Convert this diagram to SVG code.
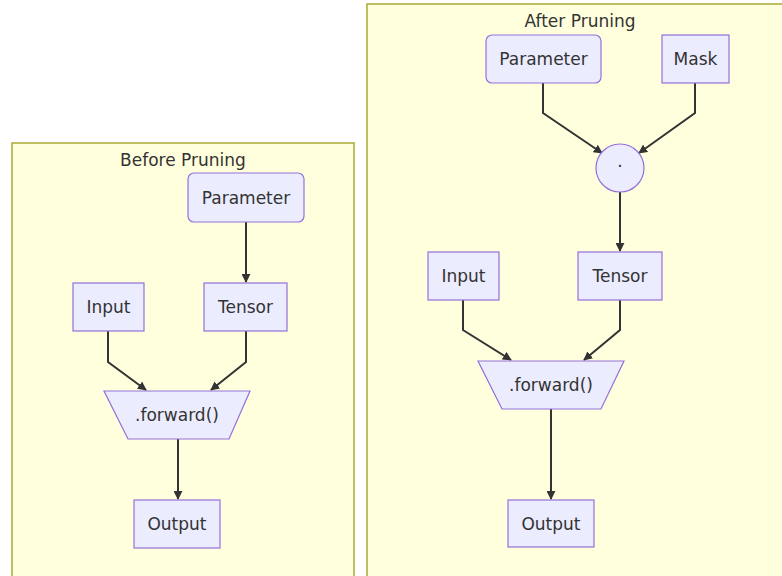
<svg xmlns="http://www.w3.org/2000/svg" width="782" height="576" viewBox="0 0 782 576">
<defs>
<marker id="arr" viewBox="0 0 10 10" refX="9" refY="5" markerWidth="9" markerHeight="9" orient="auto" markerUnits="userSpaceOnUse">
<path d="M0,0 L10,5 L0,10 z" fill="#333"/>
</marker>
<style>
.cluster{fill:#ffffde;stroke:#aaaa33;stroke-width:1.5}
.node{fill:#ececff;stroke:#9370db;stroke-width:1.2}
.lbl{font-family:"DejaVu Sans",Verdana,sans-serif;font-size:17px;fill:#333;text-anchor:middle;dominant-baseline:central}
.edge{fill:none;stroke:#333;stroke-width:2;marker-end:url(#arr)}
</style>
</defs>
<rect width="782" height="576" fill="#ffffff"/>
<g id="before-cluster">
<rect class="cluster" x="12" y="143" width="342" height="440"/>
<text class="lbl" x="183" y="160">Before Pruning</text>
</g>
<g id="after-cluster">
<rect class="cluster" x="367" y="4" width="426" height="580"/>
<text class="lbl" x="580" y="21">After Pruning</text>
</g>
<g id="edges">
<path class="edge" d="M246,222 L246,282"/>
<path class="edge" d="M108,331 L108,362 L146,390"/>
<path class="edge" d="M246,331 L246,362 L211,390"/>
<path class="edge" d="M178,439 L178,499"/>
<path class="edge" d="M543,83 L543,113 L602,153"/>
<path class="edge" d="M695,83 L695,113 L639,153"/>
<path class="edge" d="M620,192 L620,251"/>
<path class="edge" d="M463,300 L463,330 L511,360"/>
<path class="edge" d="M620,300 L620,330 L584,360"/>
<path class="edge" d="M551,409 L551,499"/>
</g>
<g id="b-parameter">
<rect class="node" x="188" y="173" width="116" height="49" rx="6"/>
<text class="lbl" x="246" y="198">Parameter</text>
</g>
<g id="b-input">
<rect class="node" x="73" y="283" width="71" height="48"/>
<text class="lbl" x="108.5" y="307">Input</text>
</g>
<g id="b-tensor">
<rect class="node" x="204" y="283" width="83" height="48"/>
<text class="lbl" x="245.5" y="307">Tensor</text>
</g>
<g id="b-forward">
<polygon class="node" points="104,391 250,391 229,439 128,439"/>
<text class="lbl" x="177" y="415">.forward()</text>
</g>
<g id="b-output">
<rect class="node" x="134" y="500" width="86" height="48"/>
<text class="lbl" x="177" y="524">Output</text>
</g>
<g id="a-parameter">
<rect class="node" x="486" y="35" width="115" height="48" rx="6"/>
<text class="lbl" x="543.5" y="59">Parameter</text>
</g>
<g id="a-mask">
<rect class="node" x="662" y="35" width="67" height="48"/>
<text class="lbl" x="695.5" y="59">Mask</text>
</g>
<g id="a-mul">
<circle class="node" cx="620" cy="168" r="24"/>
<text class="lbl" x="620" y="166">·</text>
</g>
<g id="a-input">
<rect class="node" x="428" y="252" width="71" height="48"/>
<text class="lbl" x="463.5" y="276">Input</text>
</g>
<g id="a-tensor">
<rect class="node" x="578" y="252" width="84" height="48"/>
<text class="lbl" x="620" y="276">Tensor</text>
</g>
<g id="a-forward">
<polygon class="node" points="478,361 624,361 601,409 502,409"/>
<text class="lbl" x="551" y="385">.forward()</text>
</g>
<g id="a-output">
<rect class="node" x="508" y="500" width="86" height="47"/>
<text class="lbl" x="551" y="524">Output</text>
</g>
</svg>
